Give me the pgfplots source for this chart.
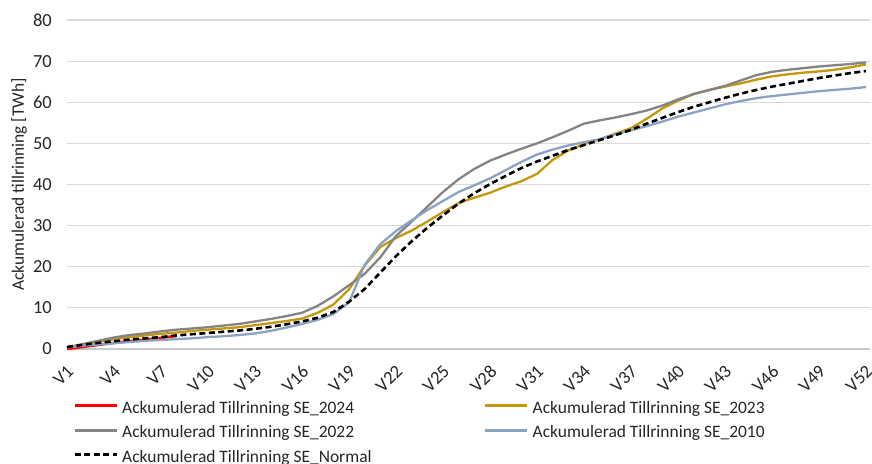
\documentclass[border=0pt]{standalone}
\usepackage{pgfplots}
\pgfplotsset{compat=1.18}
\usepackage{fontspec}
\setmainfont{Carlito}
\definecolor{c2024}{RGB}{255,0,0}
\definecolor{c2023}{RGB}{196,152,12}
\definecolor{c2022}{RGB}{132,132,132}
\definecolor{c2010}{RGB}{138,163,195}
\definecolor{gridgray}{RGB}{217,217,217}
\definecolor{axgray}{RGB}{200,200,200}
\definecolor{txt}{RGB}{38,38,38}
\begin{document}
\begin{tikzpicture}
\begin{axis}[
  at={(0,0)}, anchor=south west,
  scale only axis, width=803bp, height=329bp,
  xmin=1, xmax=52.25, ymin=0, ymax=80,
  clip=false,
  xtick={1,4,...,52},
  xticklabels={V1,V4,V7,V10,V13,V16,V19,V22,V25,V28,V31,V34,V37,V40,V43,V46,V49,V52},
  ytick={0,10,...,80},
  ymajorgrids,
  grid style={color=gridgray, line width=1.2bp},
  axis x line*=bottom, axis y line*=left,
  x axis line style={draw=axgray, line width=1.2bp, -},
  y axis line style={draw=none},
  major tick length=0pt,
  /pgf/number format/assume math mode=true,
  tick label style={font=\fontsize{18.5}{20}\selectfont, text=txt},
  yticklabel style={anchor=east, inner sep=0pt, xshift=-15bp},
  xticklabel style={yshift=-15bp, xshift=-1bp, rotate=45, anchor=north east, inner sep=0pt},
  ylabel={Ackumulerad tillrinning [TWh]},
  every axis y label/.style={at={(axis description cs:-0.0598,0.5)}, rotate=90, anchor=center,
    font=\fontsize{17.5}{20}\selectfont, text=txt},
  legend columns=2,
  legend cell align=left,
  legend image code/.code={\draw[#1, line width=3bp] (0bp,0.3em) -- (42bp,0.3em);},
  legend style={at={(0,0)}, anchor=north west, xshift=6bp, yshift=-52bp,
    draw=none, fill=none, inner sep=0pt, row sep=9.5bp,
    font=\fontsize{17.5}{20}\selectfont, text=txt,
    nodes={inner sep=0pt, text height=12bp, text depth=3bp},
    /tikz/every odd column/.append style={column sep=4bp},
    /tikz/every even column/.append style={column sep=112bp}},
]
\addplot[c2024, line width=2.6bp] coordinates {
(1,0.0) (2,0.5) (3,1.0) (4,1.5) (5,1.9) (6,2.3) (7,2.7) (8,3.2)};
\addlegendentry{Ackumulerad Tillrinning SE\_2024}
\addplot[c2023, line width=2.3bp] coordinates {
(1,0.4) (2,1.0) (3,1.7) (4,2.4) (5,2.9) (6,3.3) (7,3.7) (8,4.0) (9,4.4) (10,4.7)
(11,5.0) (12,5.3) (13,5.8) (14,6.3) (15,6.8) (16,7.4) (17,8.8) (18,10.8) (19,14.5) (20,20.3)
(21,24.8) (22,27.0) (23,28.8) (24,31.0) (25,33.3) (26,35.5) (27,36.8) (28,38.0) (29,39.5) (30,40.8)
(31,42.6) (32,46.0) (33,48.3) (34,49.8) (35,51.0) (36,52.4) (37,53.7) (38,56.0) (39,58.5) (40,60.4)
(41,62.0) (42,63.0) (43,63.8) (44,64.6) (45,65.5) (46,66.3) (47,66.8) (48,67.2) (49,67.5) (50,67.9)
(51,68.5) (52,69.2)};
\addlegendentry{Ackumulerad Tillrinning SE\_2023}
\addplot[c2022, line width=2.3bp] coordinates {
(1,0.4) (2,1.2) (3,2.0) (4,2.8) (5,3.4) (6,3.8) (7,4.3) (8,4.7) (9,5.0) (10,5.3)
(11,5.7) (12,6.1) (13,6.7) (14,7.3) (15,8.0) (16,8.8) (17,10.5) (18,12.8) (19,15.5) (20,18.3)
(21,22.3) (22,27.5) (23,31.0) (24,34.6) (25,38.2) (26,41.3) (27,43.8) (28,45.8) (29,47.3) (30,48.7)
(31,50.0) (32,51.5) (33,53.1) (34,54.8) (35,55.6) (36,56.3) (37,57.1) (38,58.0) (39,59.2) (40,60.7)
(41,62.0) (42,63.0) (43,64.0) (44,65.3) (45,66.6) (46,67.4) (47,67.9) (48,68.3) (49,68.7) (50,69.0)
(51,69.3) (52,69.7)};
\addlegendentry{Ackumulerad Tillrinning SE\_2022}
\addplot[c2010, line width=2.3bp] coordinates {
(1,0.4) (2,0.8) (3,1.1) (4,1.4) (5,1.7) (6,2.0) (7,2.2) (8,2.4) (9,2.6) (10,2.9)
(11,3.1) (12,3.4) (13,3.8) (14,4.4) (15,5.2) (16,6.1) (17,7.1) (18,8.5) (19,11.3) (20,20.5)
(21,25.5) (22,28.7) (23,31.3) (24,33.8) (25,36.0) (26,38.2) (27,39.8) (28,41.5) (29,43.5) (30,45.5)
(31,47.3) (32,48.5) (33,49.5) (34,50.3) (35,51.0) (36,52.2) (37,53.2) (38,54.2) (39,55.3) (40,56.5)
(41,57.5) (42,58.5) (43,59.5) (44,60.3) (45,61.0) (46,61.5) (47,61.9) (48,62.3) (49,62.7) (50,63.0)
(51,63.3) (52,63.7)};
\addlegendentry{Ackumulerad Tillrinning SE\_2010}
\addplot[black, line width=2.6bp, dash pattern=on 6bp off 3.5bp] coordinates {
(1,0.5) (2,1.0) (3,1.5) (4,1.9) (5,2.3) (6,2.6) (7,2.9) (8,3.3) (9,3.6) (10,3.9)
(11,4.2) (12,4.5) (13,4.9) (14,5.4) (15,6.0) (16,6.7) (17,7.6) (18,9.0) (19,11.5) (20,14.6)
(21,18.6) (22,22.6) (23,26.2) (24,29.5) (25,32.5) (26,35.4) (27,37.9) (28,40.1) (29,42.1) (30,44.0)
(31,45.6) (32,47.0) (33,48.4) (34,49.6) (35,50.8) (36,52.0) (37,53.3) (38,54.8) (39,56.2) (40,57.6)
(41,58.9) (42,60.0) (43,61.1) (44,62.1) (45,63.0) (46,63.8) (47,64.5) (48,65.2) (49,65.9) (50,66.5)
(51,67.1) (52,67.6)};
\addlegendentry{Ackumulerad Tillrinning SE\_Normal}
\end{axis}
\pgfresetboundingbox
\path[use as bounding box] (-67bp,-115bp) rectangle (805bp,349bp);
\end{tikzpicture}
\end{document}
